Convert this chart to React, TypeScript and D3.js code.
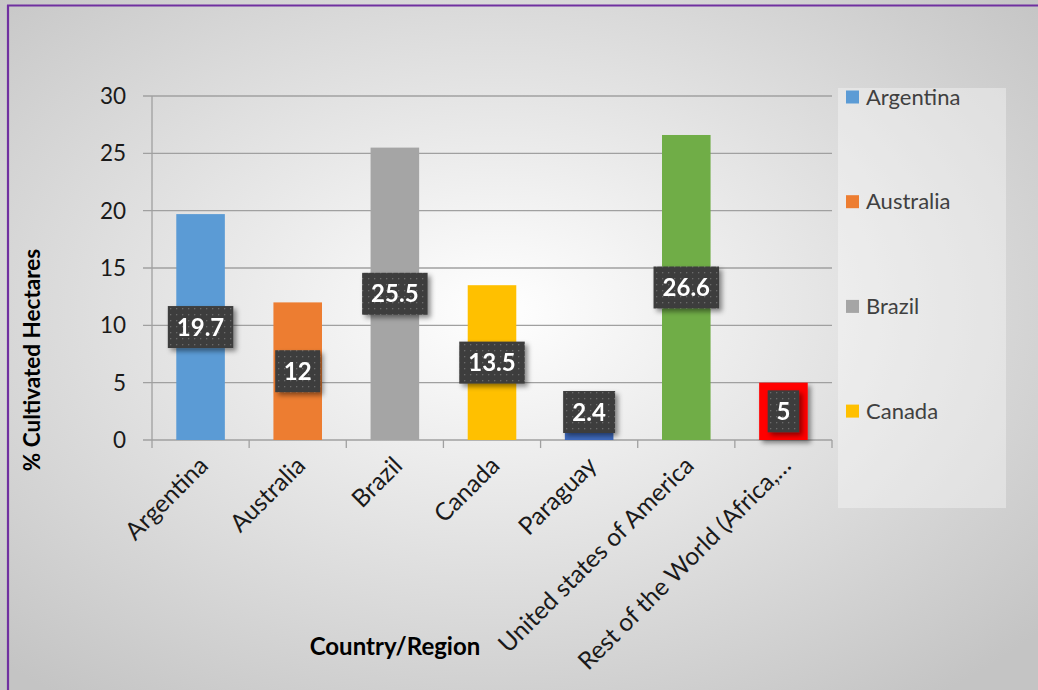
import React from "react";
import * as d3 from "d3";

const categories = [
  "Argentina",
  "Australia",
  "Brazil",
  "Canada",
  "Paraguay",
  "United states of America",
  "Rest of the World (Africa,…",
];
const values = [19.7, 12, 25.5, 13.5, 2.4, 26.6, 5];
const colors = ["#5B9BD5", "#ED7D31", "#A5A5A5", "#FFC000", "#3F6BBF", "#70AD47", "#FF0000"];
const yTicks = [0, 5, 10, 15, 20, 25, 30];
const legendItems = ["Argentina", "Australia", "Brazil", "Canada"];
const legendColors = ["#5B9BD5", "#ED7D31", "#A5A5A5", "#FFC000"];

const W = 1038;
const H = 690;
const FONT = "Lato, 'Open Sans', sans-serif";

export default function App() {
  const left = 152, right = 832, top = 96, bottom = 440;
  const x = d3.scaleBand<string>().domain(categories).range([left, right]).paddingInner(0.5).paddingOuter(0.25);
  const xb = d3.scaleBand<string>().domain(categories).range([left, right]).padding(0);
  const y = d3.scaleLinear().domain([0, 30]).range([bottom, top]);

  const labelW = (s: string) => {
    let w = 18;
    for (const ch of s) w += ch === "." ? 7 : 13.5;
    return w;
  };

  return (
    <svg width={W} height={H} style={{ position: "absolute", left: 0, top: 0 }} fontFamily={FONT}>
      <defs>
        <radialGradient id="bg" cx="48%" cy="45%" r="70%">
          <stop offset="0%" stopColor="#ffffff" />
          <stop offset="100%" stopColor="#c4c4c4" />
        </radialGradient>
        <pattern id="dots" width="6" height="6" patternUnits="userSpaceOnUse">
          <rect width="6" height="6" fill="#3d3d3d" />
          <rect x="2" y="2" width="1.3" height="1.3" fill="#6a6a6a" />
        </pattern>
        <filter id="shadow" x="-30%" y="-30%" width="160%" height="160%">
          <feDropShadow dx="3" dy="3" stdDeviation="2.5" floodColor="#000" floodOpacity="0.45" />
        </filter>
      </defs>
      <rect x={0} y={0} width={W} height={H} fill="url(#bg)" />
      {/* purple border */}
      <line x1={7} y1={5.5} x2={W} y2={5.5} stroke="#7030A0" strokeWidth={2} />
      <line x1={8} y1={5} x2={8} y2={H} stroke="#7030A0" strokeWidth={2.2} />

      {/* gridlines and y ticks */}
      {yTicks.map((t) => (
        <g key={t}>
          <line x1={left - 9} x2={right} y1={y(t)} y2={y(t)} stroke="#a0a0a0" strokeWidth={1.3} />
          <text x={126} y={y(t)} dy="0.36em" textAnchor="end" fontSize={22.5} fill="#1a1a1a">
            {t}
          </text>
        </g>
      ))}
      {/* y axis */}
      <line x1={left} x2={left} y1={top} y2={bottom + 8} stroke="#a0a0a0" strokeWidth={1.3} />
      {/* category boundary ticks */}
      {categories.map((c) => (
        <line key={c} x1={xb(c)! + xb.bandwidth()} x2={xb(c)! + xb.bandwidth()} y1={bottom} y2={bottom + 8} stroke="#a0a0a0" strokeWidth={1.3} />
      ))}

      {/* legend box */}
      <rect x={838} y={88} width={168} height={420} fill="#ffffff" fillOpacity={0.35} />

      {/* bars */}
      {categories.map((c, i) => (
        <rect
          key={c}
          x={x(c)}
          y={y(values[i])}
          width={x.bandwidth()}
          height={bottom - y(values[i])}
          fill={colors[i]}
          filter={i === 6 ? "url(#shadow)" : undefined}
        />
      ))}

      {/* data labels */}
      {categories.map((c, i) => {
        const s = String(values[i]);
        const w = labelW(s);
        const h = 42;
        const cx = x(c)! + x.bandwidth() / 2;
        let cy = (y(values[i]) + bottom) / 2;
        if (cy + h / 2 > bottom - 7) cy = bottom - 7 - h / 2;
        return (
          <g key={c} filter="url(#shadow)">
            <rect x={cx - w / 2} y={cy - h / 2} width={w} height={h} fill="url(#dots)" />
            <text x={cx} y={cy} dy="0.36em" textAnchor="middle" fontSize={24} fontWeight="bold" fill="#ffffff">
              {s}
            </text>
          </g>
        );
      })}

      {/* category labels */}
      {categories.map((c) => {
        const cx = x(c)! + x.bandwidth() / 2 + 3;
        return (
          <text key={c} transform={`translate(${cx},${bottom + 21}) rotate(-45)`} textAnchor="end" fontSize={24.5} fill="#1a1a1a" dy="0.35em">
            {c}
          </text>
        );
      })}

      {/* axis titles */}
      <text transform={`translate(40,360) rotate(-90)`} textAnchor="middle" fontSize={22.5} fontWeight="bold" fill="#000">
        % Cultivated Hectares
      </text>
      <text x={395} y={655} textAnchor="middle" fontSize={24} fontWeight="bold" fill="#000">
        Country/Region
      </text>

      {/* legend */}
      {legendItems.map((l, i) => {
        const ly = 97 + i * 104.7;
        return (
          <g key={l}>
            <rect x={846} y={ly - 6.5} width={13} height={13} fill={legendColors[i]} />
            <text x={866} y={ly} dy="0.35em" fontSize={22} fill="#404040">
              {l}
            </text>
          </g>
        );
      })}
    </svg>
  );
}
